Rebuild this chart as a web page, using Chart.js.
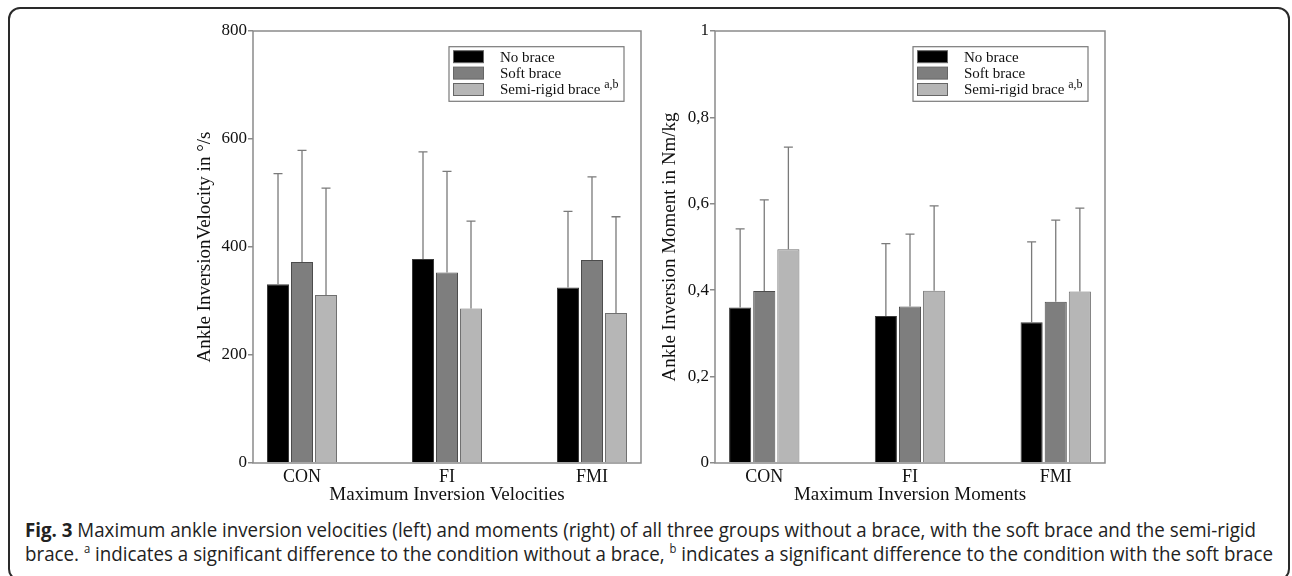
<!DOCTYPE html>
<html><head><meta charset="utf-8">
<script src="https://cdn.jsdelivr.net/npm/chart.js@4.4.1/dist/chart.umd.min.js"></script>
<style>
html,body{margin:0;padding:0;background:#fff;width:1292px;height:576px;overflow:hidden;position:relative}
#frame{position:absolute;left:8px;top:7px;width:1282px;height:574px;border:2px solid #2a2a2a;border-radius:12px;box-sizing:border-box}
.cw{position:absolute;top:0;width:520px;height:515px}
#c1w{left:140px}
#c2w{left:640px}
.cap{position:absolute;left:25px;font-family:'Open Sans';font-size:20px;color:#222;white-space:nowrap;transform-origin:0 0;line-height:22px}
.cap sup{font-size:12px;vertical-align:8px;line-height:0}
</style></head><body>
<div id="frame"></div>
<div class="cw" id="c1w"><canvas id="c1" width="520" height="515"></canvas></div>
<div class="cw" id="c2w"><canvas id="c2" width="520" height="515"></canvas></div>
<div class="cap" id="cap1" style="top:519px"><b>Fig. 3</b> Maximum ankle inversion velocities (left) and moments (right) of all three groups without a brace, with the soft brace and the semi-rigid</div>
<div class="cap" id="cap2" style="top:543px">brace. <sup>a</sup> indicates a significant difference to the condition without a brace, <sup>b</sup> indicates a significant difference to the condition with the soft brace</div>
<script>
// ---- data ----
const categories = ['CON', 'FI', 'FMI'];
const seriesNames = ['No brace', 'Soft brace', 'Semi-rigid brace'];
const legendSup = ['', '', 'a,b'];

const velNoBrace = [331, 378, 325];
const velSoft = [372, 353, 376];
const velSemi = [311, 286, 278];
const velNoBraceSD = [205, 198, 141];
const velSoftSD = [207, 187, 154];
const velSemiSD = [198, 162, 178];
const velTickValues = [0, 200, 400, 600, 800];
const velTickLabels = ['0', '200', '400', '600', '800'];

const momNoBrace = [0.360, 0.340, 0.326];
const momSoft = [0.398, 0.362, 0.373];
const momSemi = [0.495, 0.399, 0.397];
const momNoBraceSD = [0.182, 0.168, 0.186];
const momSoftSD = [0.211, 0.168, 0.189];
const momSemiSD = [0.236, 0.196, 0.193];
const momTickValues = [0, 0.2, 0.4, 0.6, 0.8, 1];
const momTickLabels = ['0', '0,2', '0,4', '0,6', '0,8', '1'];

// ---- styles ----
const barColors = ['#000000', '#7e7e7e', '#b6b6b6'];
const barBorders = ['#3a3a3a', '#4c4c4c', '#707070'];
const SERIF = "'Liberation Serif', 'Times New Roman', serif";
const axisGray = '#8a8a8a';

const extrasPlugin = {
  id: 'extras',
  afterDatasetsDraw(chart) {
    const ctx = chart.ctx, ca = chart.chartArea, y = chart.scales.y;
    const sds = chart.options.plugins.extras.sds;
    ctx.save();
    // error bars (upper SD)
    chart.data.datasets.forEach((ds, di) => {
      const meta = chart.getDatasetMeta(di);
      meta.data.forEach((el, i) => {
        const v = ds.data[i].y + sds[di][i];
        const yt = y.getPixelForValue(v);
        ctx.strokeStyle = '#7a7a7a';
        ctx.lineWidth = 1.3;
        ctx.beginPath();
        ctx.moveTo(el.x, el.y);
        ctx.lineTo(el.x, yt);
        ctx.moveTo(el.x - 4.5, yt);
        ctx.lineTo(el.x + 4.5, yt);
        ctx.stroke();
      });
    });
    // plot frame
    ctx.strokeStyle = axisGray;
    ctx.lineWidth = 1.5;
    ctx.strokeRect(ca.left, ca.top, ca.right - ca.left, ca.bottom - ca.top);
    // legend box
    const w = 175, h = 54.6;
    const x1 = ca.right - 17 - w, y1 = ca.top + 15.7;
    ctx.fillStyle = '#fff';
    ctx.fillRect(x1, y1, w, h);
    ctx.strokeStyle = '#7a7a7a';
    ctx.lineWidth = 1.2;
    ctx.strokeRect(x1, y1, w, h);
    chart.data.datasets.forEach((ds, di) => {
      const sy = y1 + 4 + di * 16.4;
      ctx.fillStyle = ds.backgroundColor;
      ctx.fillRect(x1 + 4.5, sy, 30, 12);
      ctx.strokeStyle = '#666';
      ctx.lineWidth = 1;
      ctx.strokeRect(x1 + 4.5, sy, 30, 12);
      ctx.fillStyle = '#111';
      ctx.font = '15px ' + SERIF;
      ctx.textBaseline = 'middle';
      ctx.textAlign = 'left';
      ctx.fillText(ds.label, x1 + 51, sy + 7);
      if (legendSup[di]) {
        const tw = ctx.measureText(ds.label + ' ').width;
        ctx.font = '12px ' + SERIF;
        ctx.fillText(legendSup[di], x1 + 51 + tw, sy + 1);
      }
    });
    ctx.restore();
  }
};

function pts(arr) { return arr.map((v, i) => ({ x: i, y: v })); }

function makeChart(id, vals, sds, yMax, tickVals, tickLabels, yTitle, xTitle, yWidth, padRight, yTitlePad) {
  return new Chart(document.getElementById(id), {
    type: 'bar',
    data: {
      datasets: vals.map((v, i) => ({
        label: seriesNames[i],
        data: pts(v),
        backgroundColor: barColors[i],
        borderColor: barBorders[i],
        borderWidth: 1
      }))
    },
    plugins: [extrasPlugin],
    options: {
      responsive: false,
      animation: false,
      devicePixelRatio: 1,
      layout: { padding: { left: 0, top: 31, right: padRight, bottom: 0 } },
      datasets: { bar: { categoryPercentage: 0.4966, barPercentage: 0.9167 } },
      plugins: { legend: { display: false }, tooltip: { enabled: false }, extras: { sds } },
      scales: {
        x: {
          type: 'linear', min: -0.338, max: 2.338, offset: false,
          afterBuildTicks: a => { a.ticks = categories.map((c, i) => ({ value: i })); },
          afterFit: s => { s.height = 52; },
          grid: { display: false, drawTicks: false },
          border: { display: false },
          ticks: {
            autoSkip: false, maxRotation: 0, minRotation: 0, padding: 3, color: '#111',
            font: { family: SERIF, size: 18 },
            callback: (v, i) => categories[i]
          },
          title: {
            display: true, text: xTitle, color: '#111',
            font: { family: SERIF, size: 19 },
            padding: { top: 0, bottom: 8.6 }
          }
        },
        y: {
          min: 0, max: yMax,
          afterBuildTicks: a => { a.ticks = tickVals.map(v => ({ value: v })); },
          afterFit: s => { s.width = yWidth; },
          grid: { drawOnChartArea: false, drawTicks: true, tickLength: 5, color: axisGray, lineWidth: 1.5 },
          border: { display: false },
          ticks: {
            padding: 1, color: '#111',
            font: { family: SERIF, size: 17 },
            callback: (v, i) => tickLabels[i]
          },
          title: {
            display: true, text: yTitle, color: '#111',
            font: { family: SERIF, size: 19 },
            padding: { top: yTitlePad, bottom: 0 }
          }
        }
      }
    }
  });
}

makeChart('c1', [velNoBrace, velSoft, velSemi], [velNoBraceSD, velSoftSD, velSemiSD], 800,
  velTickValues, velTickLabels, 'Ankle InversionVelocity in °/s', 'Maximum Inversion Velocities', 113, 19, 53.6);
makeChart('c2', [momNoBrace, momSoft, momSemi], [momNoBraceSD, momSoftSD, momSemiSD], 1,
  momTickValues, momTickLabels, 'Ankle Inversion Moment in Nm/kg', 'Maximum Inversion Moments', 75, 55, 18.6);

// caption horizontal fit
[['cap1', 1231], ['cap2', 1248]].forEach(([id, target]) => {
  const el = document.getElementById(id);
  const w = el.getBoundingClientRect().width;
  el.style.transform = 'scaleX(' + (target / w) + ')';
});
</script>
</body></html>
